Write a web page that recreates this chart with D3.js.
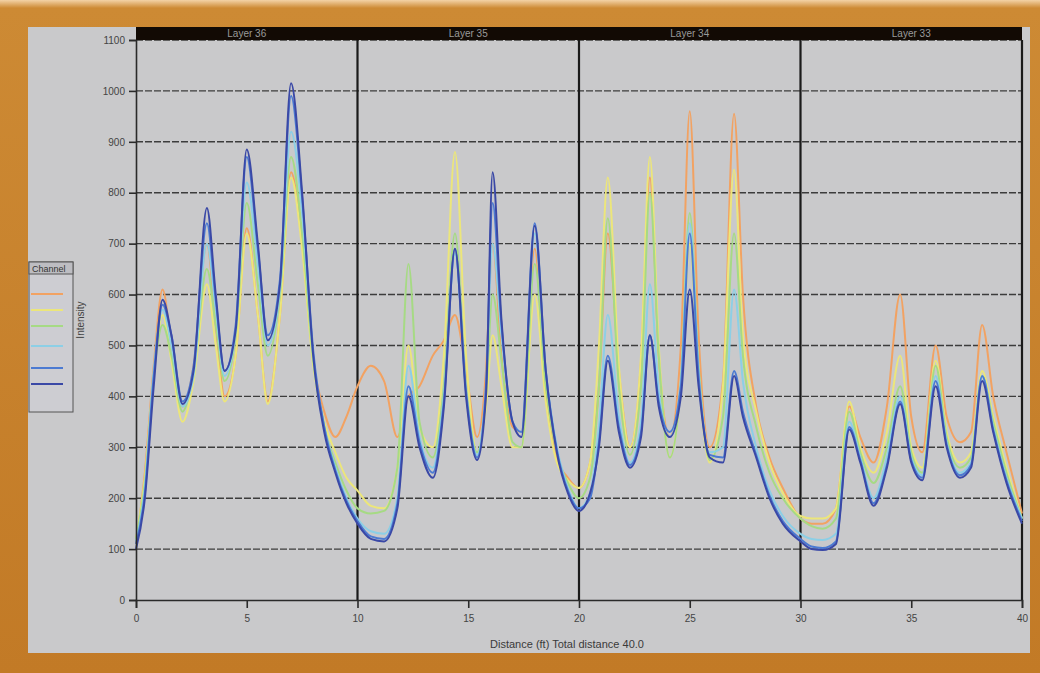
<!DOCTYPE html>
<html lang="en">
<head>
<meta charset="utf-8">
<title>Profile</title>
<script src="https://d3js.org/d3.v7.min.js"></script>
<style>
  body { margin: 0; background: #c8822c; }
  text { font-family: "Liberation Sans Narrow", "Liberation Sans", Arial, sans-serif; }
</style>
</head>
<body>
<script>
// data
var distance = [0, 0.4, 0.8, 1.2, 1.6, 2.1, 2.6, 3.2, 3.6, 4.0, 4.5, 5.0, 5.5, 5.95, 6.5, 7.0, 7.5, 8.0, 8.5, 9.0,
  9.5, 10.0, 10.6, 11.2, 11.8, 12.3, 12.8, 13.4, 13.9, 14.4, 14.9, 15.4, 15.8, 16.1, 16.5, 17.0, 17.4, 18.0, 18.5, 19.0,
  19.5, 20.0, 20.5, 20.9, 21.3, 21.8, 22.3, 22.8, 23.2, 23.6, 24.1, 24.6, 25.0, 25.4, 25.9, 26.5, 27.0, 27.4, 28.0, 28.6,
  29.2, 30.0, 30.5, 31.0, 31.6, 32.2, 32.7, 33.3, 33.9, 34.5, 35.0, 35.5, 36.1, 36.6, 37.2, 37.7, 38.2, 38.7, 39.3, 40.0];

var ch1 = [110, 250, 460, 610, 500, 380, 460, 700, 540, 400, 480, 730, 560, 390, 560, 840, 700, 470, 370, 320,
  360, 420, 460, 430, 320, 400, 420, 480, 510, 560, 450, 320, 450, 700, 480, 340, 330, 690, 400, 280,
  240, 220, 270, 420, 720, 450, 300, 470, 830, 480, 320, 500, 960, 520, 300, 430, 955, 600, 380, 280,
  220, 160, 150, 150, 180, 380, 320, 270, 380, 600, 360, 290, 500, 360, 310, 330, 540, 400, 290, 170];
var ch2 = [120, 240, 440, 560, 470, 350, 430, 620, 500, 390, 480, 720, 560, 385, 560, 830, 690, 460, 350, 290,
  240, 215, 185, 180, 260, 500, 340, 300, 480, 880, 480, 290, 380, 520, 420, 300, 300, 600, 390, 270,
  235, 220, 270, 500, 830, 460, 300, 480, 870, 500, 280, 420, 700, 440, 270, 420, 845, 520, 370, 270,
  210, 165, 160, 160, 180, 390, 300, 250, 330, 480, 300, 260, 470, 330, 270, 290, 450, 360, 260, 160];
var ch3 = [120, 230, 440, 540, 480, 370, 450, 650, 540, 430, 520, 780, 620, 480, 600, 870, 720, 470, 340, 270,
  215, 180, 170, 175, 260, 660, 350, 280, 420, 720, 420, 290, 400, 600, 470, 310, 300, 660, 420, 290,
  230, 200, 240, 420, 750, 420, 285, 420, 800, 480, 280, 430, 760, 460, 275, 360, 720, 480, 340, 250,
  200, 160, 145, 140, 160, 370, 290, 230, 300, 420, 290, 250, 460, 320, 260, 280, 440, 350, 250, 160];
var ch4 = [115, 220, 450, 570, 500, 380, 440, 700, 570, 440, 530, 820, 660, 500, 610, 920, 760, 480, 340, 260,
  200, 160, 135, 130, 200, 460, 320, 260, 400, 680, 410, 285, 420, 700, 520, 350, 330, 720, 450, 300,
  220, 180, 210, 340, 560, 360, 270, 350, 620, 410, 320, 430, 740, 450, 290, 300, 610, 430, 300, 215,
  165, 130, 120, 118, 130, 350, 280, 200, 280, 400, 280, 245, 440, 310, 250, 270, 440, 340, 240, 160];
var ch5 = [110, 210, 440, 580, 520, 390, 460, 740, 590, 450, 540, 870, 690, 520, 630, 990, 790, 490, 340, 255,
  195, 155, 125, 120, 190, 420, 310, 250, 390, 690, 410, 280, 420, 780, 540, 350, 330, 740, 450, 295,
  215, 180, 200, 310, 480, 340, 265, 330, 520, 390, 330, 420, 720, 440, 285, 280, 450, 370, 285, 205,
  155, 120, 105, 102, 115, 340, 275, 190, 265, 390, 275, 240, 430, 305, 245, 265, 440, 335, 235, 155];
var ch6 = [100, 200, 420, 590, 520, 385, 450, 770, 600, 450, 530, 885, 700, 510, 620, 1015, 800, 480, 330, 250,
  190, 150, 120, 115, 180, 400, 300, 240, 380, 690, 400, 275, 400, 840, 550, 350, 320, 735, 450, 290,
  210, 175, 210, 300, 470, 330, 260, 320, 520, 380, 320, 400, 610, 420, 280, 270, 440, 360, 280, 200,
  150, 115, 100, 98, 110, 335, 270, 185, 260, 385, 270, 235, 420, 300, 240, 260, 430, 330, 230, 150];

var seriesNames = ["Ch 1", "Ch 2", "Ch 3", "Ch 4", "Ch 5", "Ch 6"];
var seriesValues = [ch1, ch2, ch3, ch4, ch5, ch6];
var seriesColors = ["#f2a262", "#ece67a", "#a6da84", "#8ccfe6", "#4c7ad2", "#3a48a6"];

var panelLabels = ["Layer 36", "Layer 35", "Layer 34", "Layer 33"];
var panelStarts = [0, 10, 20, 30];
var yTicks = d3.range(0, 1101, 100);
var xTicks = d3.range(0, 41, 5);

// layout
var width = 1040, height = 673;
var margin = { left: 136, top: 40, right: 18, bottom: 73 };
var innerWidth = width - margin.left - margin.right;
var innerHeight = height - margin.top - margin.bottom;

var svg = d3.select("body").append("svg")
    .attr("width", width)
    .attr("height", height)
    .style("display", "block");

var defs = svg.append("defs");
var grad = defs.append("linearGradient").attr("id", "frame").attr("x1", 0).attr("y1", 0).attr("x2", 0).attr("y2", 1);
grad.append("stop").attr("offset", "0").attr("stop-color", "#f3d2a6");
grad.append("stop").attr("offset", "0.012").attr("stop-color", "#cd8a34");
grad.append("stop").attr("offset", "1").attr("stop-color", "#c27a26");

svg.append("rect").attr("width", width).attr("height", height).attr("fill", "url(#frame)");
svg.append("rect")
    .attr("x", 28).attr("y", 27)
    .attr("width", 1002).attr("height", 626)
    .attr("fill", "#c9c9cb");

var g = svg.append("g").attr("transform", "translate(" + margin.left + "," + margin.top + ")");

var x = d3.scaleLinear().domain([0, 40]).range([0, innerWidth]);
var y = d3.scaleLinear().domain([0, 1100]).range([innerHeight, 0]);

// horizontal grid
g.append("g").selectAll("line").data(yTicks.slice(1)).enter().append("line")
    .attr("x1", 0).attr("x2", innerWidth)
    .attr("y1", function (d) { return y(d); })
    .attr("y2", function (d) { return y(d); })
    .attr("stroke", "#3c3c3c")
    .attr("stroke-width", 1.4)
    .attr("stroke-dasharray", "7,2");

// panel dividers
g.append("g").selectAll("line").data(panelStarts.slice(1).concat([40])).enter().append("line")
    .attr("x1", function (d) { return x(d); })
    .attr("x2", function (d) { return x(d); })
    .attr("y1", 0).attr("y2", innerHeight)
    .attr("stroke", "#1a1a1a")
    .attr("stroke-width", 2.2);

// header bar
g.append("rect")
    .attr("x", 0).attr("y", -13)
    .attr("width", innerWidth).attr("height", 13)
    .attr("fill", "#120a04");
g.append("g").selectAll("text").data(panelLabels).enter().append("text")
    .attr("x", function (d, i) { return x(panelStarts[i] + 5); })
    .attr("y", -3)
    .attr("text-anchor", "middle")
    .attr("font-size", 10)
    .attr("fill", "#9a9a9a")
    .text(function (d) { return d; });

// lines
var line = d3.line()
    .x(function (d) { return x(d[0]); })
    .y(function (d) { return y(d[1]); })
    .curve(d3.curveMonotoneX);

g.append("g").selectAll("path").data(seriesValues).enter().append("path")
    .attr("d", function (vals) { return line(distance.map(function (t, i) { return [t, vals[i]]; })); })
    .attr("fill", "none")
    .attr("stroke", function (d, i) { return seriesColors[i]; })
    .attr("stroke-width", 2)
    .attr("stroke-linejoin", "round");

// axes
var yAxis = g.append("g").call(d3.axisLeft(y).tickValues(yTicks).tickFormat(d3.format("d")).tickSize(7).tickPadding(4));
var xAxis = g.append("g").attr("transform", "translate(0," + innerHeight + ")")
    .call(d3.axisBottom(x).tickValues(xTicks).tickFormat(d3.format("d")).tickSize(8).tickPadding(7));
[yAxis, xAxis].forEach(function (a) {
    a.select(".domain").attr("stroke", "#2a2a2a").attr("stroke-width", 1.6);
    a.selectAll(".tick line").attr("stroke", "#2a2a2a").attr("stroke-width", 1.6);
    a.selectAll(".tick text").attr("fill", "#444").attr("font-size", 10)
        .attr("font-family", "'Liberation Sans Narrow', 'Liberation Sans', sans-serif");
});

svg.append("text")
    .attr("x", margin.left + innerWidth / 2 - 12)
    .attr("y", 648)
    .attr("text-anchor", "middle")
    .attr("font-size", 11)
    .attr("fill", "#3a3a3a")
    .text("Distance (ft) Total distance 40.0");

// y title
svg.append("text")
    .attr("transform", "translate(84,320) rotate(-90)")
    .attr("text-anchor", "middle")
    .attr("font-size", 10)
    .attr("fill", "#444")
    .text("Intensity");

// legend
var leg = svg.append("g").attr("transform", "translate(29,262)");
leg.append("rect").attr("width", 44).attr("height", 150)
    .attr("fill", "#cdcdd2").attr("stroke", "#555").attr("stroke-width", 1);
leg.append("rect").attr("width", 44).attr("height", 12).attr("fill", "#bdbdc2").attr("stroke", "#555");
leg.append("text").attr("x", 3).attr("y", 9.5).attr("font-size", 9).attr("fill", "#333").text("Channel");
var legY = [32, 48, 64, 84, 106, 122];
leg.selectAll("line.item").data(seriesNames).enter().append("line")
    .attr("class", "item")
    .attr("x1", 2).attr("x2", 34)
    .attr("y1", function (d, i) { return legY[i]; })
    .attr("y2", function (d, i) { return legY[i]; })
    .attr("stroke", function (d, i) { return seriesColors[i]; })
    .attr("stroke-width", 2);
</script>
</body>
</html>
